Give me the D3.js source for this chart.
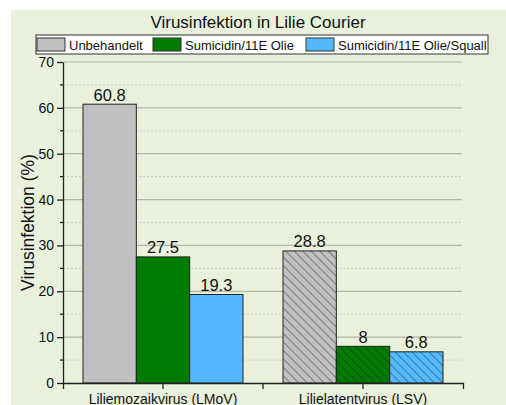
<!DOCTYPE html>
<html>
<head>
<meta charset="utf-8">
<script src="https://cdn.jsdelivr.net/npm/d3@7"></script>
<style>
  body { margin: 0; background: #fff; }
  text { font-family: "Liberation Sans", Arial, sans-serif; fill: #111; }
</style>
</head>
<body>
<div id="chart"></div>
<script>
// chart data
const categories = ["Liliemozaikvirus (LMoV)", "Lilielatentvirus (LSV)"];
const seriesNames = ["Unbehandelt", "Sumicidin/11E Olie", "Sumicidin/11E Olie/Squall"];
const unbehandelt = [60.8, 28.8];
const sumicidin = [27.5, 8];
const sumicidinSquall = [19.3, 6.8];
const yTicks = [0, 10, 20, 30, 40, 50, 60, 70];
const colors = ["#c0c0c0", "#007c00", "#54baff"];

const seriesValues = [unbehandelt, sumicidin, sumicidinSquall];

const W = 506, H = 405;
const svg = d3.select("#chart").append("svg")
  .attr("width", W).attr("height", H);

// panel background
svg.append("rect")
  .attr("x", 11).attr("y", 10)
  .attr("width", W - 11).attr("height", H - 10)
  .attr("fill", "#e9f0dc");

// hatch patterns for second category
const defs = svg.append("defs");
colors.forEach((c, i) => {
  const p = defs.append("pattern")
    .attr("id", "hatch" + i)
    .attr("patternUnits", "userSpaceOnUse")
    .attr("width", 6).attr("height", 6)
    .attr("patternTransform", "rotate(-45)");
  p.append("rect").attr("width", 6).attr("height", 6).attr("fill", c);
  p.append("line")
    .attr("x1", 0).attr("y1", 0).attr("x2", 0).attr("y2", 6)
    .attr("stroke", "#222").attr("stroke-width", 0.9);
});

const mLeft = 63, mRight = 463, mTop = 62, mBottom = 383;

const x = d3.scaleBand().domain(categories).range([mLeft, mRight]).padding(0);
const xs = d3.scaleBand().domain(d3.range(seriesNames.length))
  .range([0, x.bandwidth()]).paddingOuter(0.375).paddingInner(0);
const y = d3.scaleLinear().domain([0, 70]).range([mBottom, mTop]);

// grid lines
const minor = d3.range(5, 70, 10);
svg.append("g").selectAll("line").data(minor).enter().append("line")
  .attr("x1", mLeft).attr("x2", mRight)
  .attr("y1", d => y(d)).attr("y2", d => y(d))
  .attr("stroke", "#c8c8c8").attr("stroke-dasharray", "2,2");
svg.append("g").selectAll("line").data(yTicks.slice(1)).enter().append("line")
  .attr("x1", mLeft).attr("x2", mRight - 1)
  .attr("y1", d => y(d)).attr("y2", d => y(d))
  .attr("stroke", "#b4b4aa").attr("stroke-width", 1.2);

// bars
const rows = [];
categories.forEach((cat, ci) => {
  seriesValues.forEach((vals, si) => {
    rows.push({ cat: cat, ci: ci, si: si, v: vals[ci] });
  });
});

svg.append("g").selectAll("rect").data(rows).enter().append("rect")
  .attr("x", d => x(d.cat) + xs(d.si))
  .attr("y", d => y(d.v))
  .attr("width", xs.bandwidth())
  .attr("height", d => y(0) - y(d.v))
  .attr("fill", d => d.ci === 1 ? "url(#hatch" + d.si + ")" : colors[d.si])
  .attr("stroke", "#222").attr("stroke-width", 1);

// value labels
svg.append("g").selectAll("text").data(rows).enter().append("text")
  .attr("x", d => x(d.cat) + xs(d.si) + xs.bandwidth() / 2)
  .attr("y", d => y(d.v) - 3.5)
  .attr("text-anchor", "middle")
  .style("font-size", "16.5px")
  .text(d => d.v);

// y axis
const yAxis = svg.append("g")
  .attr("transform", `translate(${mLeft},0)`)
  .call(d3.axisLeft(y).tickValues(yTicks).tickSize(6).tickSizeOuter(0).tickPadding(3));
yAxis.selectAll("text").style("font-size", "14px");
yAxis.selectAll("line, path").attr("stroke", "#222").attr("stroke-width", 1.3);
yAxis.append("g").selectAll("line").data(minor).enter().append("line")
  .attr("x1", -3).attr("x2", 0)
  .attr("y1", d => y(d)).attr("y2", d => y(d))
  .attr("stroke", "#222").attr("stroke-width", 1.3);

// x axis
const xAxis = svg.append("g")
  .attr("transform", `translate(0,${mBottom})`)
  .call(d3.axisBottom(x).tickSize(6).tickSizeOuter(6).tickPadding(4));
xAxis.selectAll("text").style("font-size", "14px").attr("dy", "0.75em");
xAxis.selectAll("line, path").attr("stroke", "#222").attr("stroke-width", 1.3);
xAxis.append("line")
  .attr("x1", x(categories[1])).attr("x2", x(categories[1]))
  .attr("y1", 0).attr("y2", 6)
  .attr("stroke", "#222").attr("stroke-width", 1.3);

// y axis title
svg.append("text")
  .attr("transform", `translate(34,${(mTop + mBottom) / 2}) rotate(-90)`)
  .attr("text-anchor", "middle")
  .style("font-size", "17.5px")
  .text("Virusinfektion (%)");

// title
svg.append("text")
  .attr("x", 258).attr("y", 28)
  .attr("text-anchor", "middle")
  .style("font-size", "17px")
  .text("Virusinfektion in Lilie Courier");

// legend
const legend = svg.append("g");
legend.append("rect")
  .attr("x", 36).attr("y", 35).attr("width", 452).attr("height", 19)
  .attr("fill", "#fff").attr("stroke", "#333").attr("stroke-width", 1);
const legX = [37, 153, 306];
seriesNames.forEach((name, i) => {
  legend.append("rect")
    .attr("x", legX[i]).attr("y", 38).attr("width", 28).attr("height", 13)
    .attr("fill", colors[i]).attr("stroke", "#333");
  legend.append("text")
    .attr("x", legX[i] + 32).attr("y", 49.5)
    .style("font-size", "13px")
    .text(name);
});
</script>
</body>
</html>
